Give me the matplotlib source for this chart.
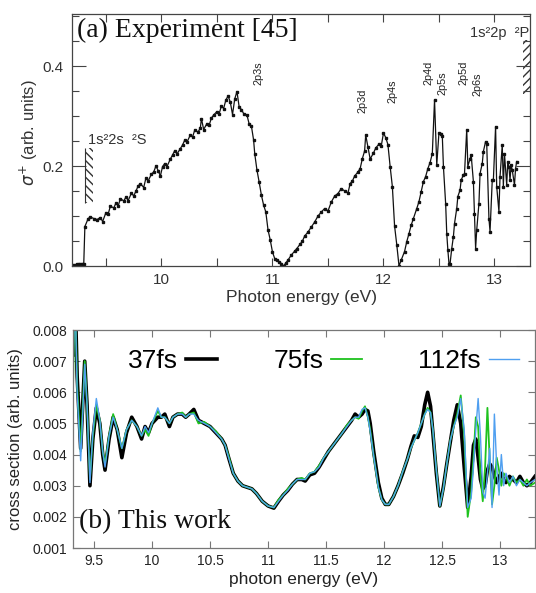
import numpy as np
import matplotlib
matplotlib.use('Agg')
import matplotlib.pyplot as plt
from matplotlib.patches import Rectangle
from matplotlib.ticker import MultipleLocator, FormatStrFormatter

plt.rcParams['font.family'] = ['Liberation Sans', 'DejaVu Sans']
plt.rcParams['mathtext.fontset'] = 'dejavusans'

# ---- panel (a): experimental data (photon energy in eV, sigma+ arb. units)
exp_energy = [9.20, 9.21, 9.22, 9.24, 9.26, 9.28, 9.30,
              9.31, 9.34, 9.36, 9.39, 9.42, 9.45, 9.47, 9.50, 9.52, 9.54,
              9.57, 9.59, 9.61, 9.63, 9.66, 9.68, 9.70, 9.73, 9.75, 9.77,
              9.79, 9.81, 9.84, 9.86, 9.88, 9.91, 9.93, 9.95, 9.97, 9.99,
              10.01, 10.03, 10.05, 10.08, 10.10, 10.12, 10.14, 10.17, 10.19,
              10.21, 10.23, 10.26, 10.28, 10.30, 10.33, 10.35, 10.36, 10.38,
              10.41, 10.43, 10.45, 10.47, 10.50, 10.52, 10.54, 10.56, 10.58,
              10.60, 10.62, 10.64, 10.66, 10.68, 10.70, 10.72, 10.74, 10.77,
              10.79, 10.81, 10.83, 10.84, 10.86, 10.88, 10.90, 10.92, 10.94,
              10.96, 10.98, 11.00, 11.02, 11.04, 11.06, 11.08, 11.10, 11.12,
              11.14, 11.17, 11.20, 11.22, 11.25, 11.27, 11.29, 11.32, 11.35,
              11.38, 11.41, 11.44, 11.47, 11.50, 11.53, 11.56, 11.59, 11.62,
              11.65, 11.68, 11.70, 11.72, 11.74, 11.77, 11.79, 11.81, 11.83,
              11.84, 11.86, 11.88, 11.91, 11.93, 11.96, 11.98, 12.00, 12.02,
              12.04, 12.06, 12.08, 12.10, 12.12, 12.14, 12.16, 12.19, 12.21,
              12.23, 12.25, 12.27, 12.30, 12.32, 12.34, 12.36, 12.38, 12.40,
              12.42, 12.44, 12.46, 12.48, 12.50, 12.52, 12.53, 12.54, 12.56,
              12.57, 12.58, 12.59, 12.60, 12.615, 12.63, 12.64, 12.66, 12.67,
              12.69, 12.70, 12.72, 12.73, 12.75, 12.76, 12.78, 12.79, 12.81,
              12.82, 12.83, 12.84, 12.86, 12.87, 12.89, 12.90, 12.92, 12.93,
              12.95, 12.96, 12.98, 12.99, 13.01, 13.02, 13.04, 13.05, 13.07,
              13.08, 13.09, 13.11, 13.12, 13.13, 13.14, 13.15, 13.16, 13.18,
              13.19, 13.20]
exp_sigma = [0.002, 0.000, 0.002, 0.004, 0.005, 0.005, 0.005,
             0.079, 0.095, 0.098, 0.095, 0.093, 0.097, 0.089, 0.107, 0.104, 0.120,
             0.116, 0.126, 0.120, 0.135, 0.130, 0.138, 0.131, 0.146, 0.140, 0.150,
             0.160, 0.165, 0.157, 0.176, 0.170, 0.184, 0.188, 0.200, 0.191, 0.180,
             0.199, 0.205, 0.199, 0.214, 0.222, 0.231, 0.224, 0.235, 0.242,
             0.252, 0.248, 0.262, 0.258, 0.272, 0.268, 0.276, 0.295, 0.273,
             0.285, 0.282, 0.296, 0.302, 0.309, 0.305, 0.320, 0.315, 0.332,
             0.340, 0.328, 0.303, 0.334, 0.349, 0.318, 0.313, 0.305, 0.302,
             0.284, 0.280, 0.252, 0.225, 0.192, 0.168, 0.142, 0.122, 0.108,
             0.072, 0.052, 0.028, 0.015, 0.012, 0.009, 0.005, 0.000, 0.006,
             0.012, 0.022, 0.030, 0.035, 0.044, 0.050, 0.060, 0.068, 0.078,
             0.088, 0.100, 0.108, 0.115, 0.110, 0.128, 0.140, 0.145, 0.155,
             0.150, 0.146, 0.165, 0.170, 0.180, 0.188, 0.195, 0.215, 0.230,
             0.262, 0.238, 0.214, 0.226, 0.236, 0.244, 0.240, 0.266, 0.257,
             0.243, 0.199, 0.159, 0.080, 0.042, 0.000, 0.012, 0.029, 0.049,
             0.065, 0.082, 0.095, 0.115, 0.129, 0.149, 0.169, 0.179, 0.195,
             0.207, 0.225, 0.332, 0.202, 0.267, 0.265, 0.260, 0.199, 0.125,
             0.065, 0.032, 0.005, 0.005, 0.035, 0.059, 0.085, 0.115, 0.139,
             0.152, 0.172, 0.182, 0.185, 0.273, 0.199, 0.215, 0.222, 0.169,
             0.105, 0.035, 0.072, 0.125, 0.185, 0.205, 0.229, 0.249, 0.245,
             0.095, 0.069, 0.172, 0.172, 0.279, 0.159, 0.109, 0.179, 0.242,
             0.159, 0.225, 0.162, 0.209, 0.199, 0.172, 0.202, 0.192, 0.162,
             0.195, 0.209]

# thresholds and resonance labels
thresholds = [9.313, 13.32]
res_labels = ['2p3s', '2p3d', '2p4s', '2p4d', '2p5s', '2p5d', '2p6s']
res_energy = [10.87, 11.815, 12.085, 12.41, 12.535, 12.72, 12.85]
res_height = [0.362, 0.306, 0.326, 0.362, 0.342, 0.362, 0.339]

# ---- panel (b): calculated cross section (units of 1e-3)
calc_energy = [9.320, 9.335, 9.355, 9.385, 9.405, 9.420, 9.440, 9.465, 9.490,
               9.520, 9.550, 9.575, 9.595, 9.630, 9.665, 9.700, 9.740, 9.780,
               9.825, 9.870, 9.910, 9.940, 9.970, 10.000, 10.050, 10.080,
               10.110, 10.150, 10.180, 10.220, 10.260, 10.290, 10.320, 10.360,
               10.400, 10.450, 10.500, 10.550, 10.600, 10.630, 10.660, 10.700,
               10.740, 10.780, 10.820, 10.860, 10.900, 10.950, 11.000, 11.050,
               11.090, 11.130, 11.170, 11.210, 11.250, 11.290, 11.320, 11.360,
               11.400, 11.440, 11.480, 11.520, 11.560, 11.600, 11.640, 11.680,
               11.720, 11.750, 11.780, 11.810, 11.835, 11.860, 11.880, 11.910,
               11.950, 11.980, 12.010, 12.040, 12.080, 12.120, 12.160, 12.200,
               12.230, 12.260, 12.290, 12.320, 12.350, 12.375, 12.400, 12.420,
               12.450, 12.480, 12.510, 12.540, 12.570, 12.600, 12.630, 12.660,
               12.690, 12.720, 12.750, 12.770, 12.790, 12.810, 12.830, 12.850,
               12.870, 12.890, 12.910, 12.930, 12.950, 12.970, 12.990, 13.010,
               13.030, 13.050, 13.080, 13.110, 13.140, 13.170, 13.200, 13.230,
               13.260, 13.300]
cs_37fs = [7.2, 9.5, 6.5, 4.2, 5.8, 7.0, 5.6, 3.0, 4.5,
           5.5, 5.0, 4.0, 3.5, 4.5, 5.2, 4.8, 3.9, 4.7,
           5.2, 4.9, 4.5, 4.9, 4.7, 5.0, 5.2, 5.2,
           5.3, 4.9, 5.2, 5.3, 5.3, 5.2, 5.3, 5.45,
           5.1, 5.0, 4.9, 4.7, 4.5, 4.3, 3.9, 3.4,
           3.15, 3.0, 2.95, 2.9, 2.75, 2.5, 2.35, 2.28,
           2.5, 2.7, 2.85, 3.05, 3.2, 3.2, 3.15, 3.35,
           3.4, 3.6, 3.85, 4.1, 4.3, 4.5, 4.7, 4.9,
           5.1, 5.3, 5.2, 5.3, 5.45, 5.4, 5.0, 4.1,
           3.1, 2.6, 2.4, 2.4, 2.65, 3.0, 3.4, 3.85,
           4.25, 4.6, 4.55, 4.9, 5.6, 6.0, 5.55, 4.7,
           3.4, 2.35, 2.95, 3.7, 4.4, 5.1, 5.6, 5.0,
           3.6, 2.3, 3.3, 4.3, 4.5, 3.9, 3.2, 2.9,
           3.0, 3.5, 3.7, 3.6, 3.3, 3.1, 3.3, 3.4,
           3.2, 3.1, 3.3, 3.2, 3.1, 3.3, 3.1, 3.0,
           3.1, 3.3]
cs_75fs = [6.3, 9.5, 6.2, 4.1, 5.7, 7.0, 5.6, 3.2, 4.6,
           5.6, 5.1, 4.1, 3.7, 4.6, 5.3, 4.8, 4.2, 4.8,
           5.1, 4.9, 4.6, 4.8, 4.6, 5.0, 5.4, 5.2,
           5.2, 5.0, 5.2, 5.3, 5.35, 5.2, 5.3, 5.35,
           5.0, 5.05, 4.9, 4.75, 4.5, 4.3, 3.95, 3.4,
           3.15, 3.0, 2.95, 2.9, 2.75, 2.5, 2.35, 2.3,
           2.55, 2.7, 2.9, 3.05, 3.2, 3.25, 3.2, 3.4,
           3.45, 3.65, 3.9, 4.1, 4.3, 4.5, 4.7, 4.95,
           5.1, 5.2, 5.15, 5.4, 5.55, 5.2, 4.8, 3.95,
           2.95, 2.55, 2.4, 2.4, 2.65, 3.0, 3.45, 3.85,
           4.2, 4.45, 4.7, 5.0, 5.3, 5.5, 5.35, 4.8,
           3.5, 2.35, 2.9, 3.7, 4.45, 4.9, 5.3, 5.9,
           4.6, 2.0, 2.8, 3.9, 5.2, 4.9, 3.3, 2.5,
           3.6, 5.5, 3.8, 2.4, 3.0, 3.9, 3.5, 3.0,
           3.4, 3.3, 3.0, 3.3, 3.1, 3.2, 3.0, 3.2,
           3.0, 3.1]
cs_112fs = [6.6, 9.5, 6.0, 3.8, 5.5, 6.9, 5.6, 3.1, 4.7,
            5.8, 5.1, 4.1, 3.6, 4.6, 5.2, 4.8, 4.2, 4.8,
            5.1, 4.9, 4.6, 4.9, 4.7, 5.0, 5.5, 5.2,
            5.2, 5.0, 5.2, 5.3, 5.3, 5.2, 5.3, 5.3,
            5.1, 5.0, 4.9, 4.7, 4.5, 4.3, 3.9, 3.4,
            3.15, 3.0, 2.95, 2.9, 2.75, 2.5, 2.35, 2.3,
            2.5, 2.7, 2.85, 3.05, 3.2, 3.2, 3.2, 3.4,
            3.45, 3.6, 3.9, 4.1, 4.3, 4.5, 4.7, 4.9,
            5.1, 5.2, 5.2, 5.45, 5.5, 5.2, 4.75, 3.95,
            2.95, 2.55, 2.4, 2.4, 2.65, 3.0, 3.45, 3.85,
            4.2, 4.45, 4.7, 5.0, 5.3, 5.45, 5.35, 4.8,
            3.5, 2.35, 2.9, 3.7, 4.45, 4.9, 5.2, 5.8,
            4.8, 2.3, 2.6, 3.6, 4.8, 5.8, 4.6, 2.8,
            2.6, 3.4, 4.2, 2.3, 5.3, 3.6, 2.7, 4.0,
            3.0, 3.4, 3.1, 3.3, 3.0, 3.2, 3.1, 3.0,
            3.1, 3.2]
pulse_labels = ['37fs', '75fs', '112fs']
pulse_colors = ['black', '#1ec21e', '#4f9ff0']
pulse_widths = [2.6, 1.3, 1.0]

fig = plt.figure(figsize=(5.36, 5.93), dpi=100)
ax1 = fig.add_axes([72/536, 1 - 266/593, 458/536, 252/593])
ax2 = fig.add_axes([73/536, 1 - 548/593, 462/536, 218/593])

grey = '#333333'

### panel (a)
ax1.plot(exp_energy, exp_sigma, '-s', color='#111111', lw=0.9, ms=1.9)
ax1.set_xlim(9.194, 13.32)
ax1.set_ylim(0, 0.504)
ax1.set_xticks([10, 11, 12, 13])
ax1.xaxis.set_minor_locator(MultipleLocator(0.5))
ax1.set_yticks([0.0, 0.2, 0.4])
ax1.yaxis.set_minor_locator(MultipleLocator(0.05))
ax1.yaxis.set_major_formatter(FormatStrFormatter('%.1f'))
ax1.tick_params(which='both', direction='in', top=True, right=True,
                labelsize=11, colors='#444444', labelcolor=grey, width=0.8)
ax1.tick_params(axis='x', which='both', length=6, pad=5)
ax1.tick_params(axis='y', which='major', length=10, pad=6)
ax1.tick_params(axis='y', which='minor', length=5)
for s in ax1.spines.values():
    s.set_color('#444444')
    s.set_linewidth(0.9)
ax1.set_xlabel('Photon energy (eV)', fontsize=12.5, color=grey, labelpad=2)
ax1.set_ylabel(r'$\sigma^{+}$ (arb. units)', fontsize=12, color=grey)
ax1.yaxis.set_label_coords(-0.07, 0.53)

# threshold hatches
ax1.add_patch(Rectangle((thresholds[0], 0.126), 0.07, 0.11, fill=False,
                        hatch='\\\\\\\\', edgecolor=grey, lw=0))
ax1.vlines(thresholds[0], 0.126, 0.236, color=grey, lw=0.8)
ax1.add_patch(Rectangle((thresholds[1] - 0.065, 0.345), 0.065, 0.107, fill=False,
                        hatch='////', edgecolor=grey, lw=0))
ax1.text(9.34, 0.252, '1s²2s  ²S', fontsize=10.5, color=grey, va='center')
ax1.text(13.31, 0.466, '1s²2p  ²P', fontsize=10.5, color=grey, va='center', ha='right')
for lab, e, h in zip(res_labels, res_energy, res_height):
    ax1.text(e, h, lab, rotation=90, fontsize=7.8, color='#222222',
             ha='center', va='bottom')
ax1.text(0.01, 0.984, '(a) Experiment [45]', transform=ax1.transAxes,
         family='Liberation Serif', fontsize=20, va='top', color='#111111')

### panel (b)
series = [cs_37fs, cs_75fs, cs_112fs]
for ys, lab, c, w in zip(series, pulse_labels, pulse_colors, pulse_widths):
    ax2.plot(calc_energy, np.array(ys) * 1e-3, color=c, lw=w, label=lab,
             solid_joinstyle='round')
ax2.set_xlim(9.319, 13.30)
ax2.set_ylim(0.001, 0.008)
ax2.set_xticks(np.arange(9.5, 13.01, 0.5))
ax2.xaxis.set_major_formatter(FormatStrFormatter('%g'))
ax2.set_yticks(np.arange(0.001, 0.00801, 0.001))
ax2.yaxis.set_major_formatter(FormatStrFormatter('%.3f'))
ax2.tick_params(direction='in', top=True, right=True, length=5, width=0.8,
                labelsize=10, colors='#777777', labelcolor='#222222', pad=4)
for s in ax2.spines.values():
    s.set_color('#777777')
    s.set_linewidth(0.9)
ax2.set_xlabel('photon energy (eV)', fontsize=12.5, color='#222222', labelpad=3)
ax2.set_ylabel('cross section (arb. units)', fontsize=12, color='#222222')
ax2.yaxis.set_label_coords(-0.108, 0.5)
ax2.legend(ncol=3, loc='center left', bbox_to_anchor=(0.12, 0.858),
           frameon=False, fontsize=19, markerfirst=False, handlelength=1.15,
           handletextpad=0.3, columnspacing=2.15, borderaxespad=0, borderpad=0)
ax2.text(0.012, 0.12, '(b) This work', transform=ax2.transAxes,
         family='Liberation Serif', fontsize=20, va='center', color='#111111')

fig.savefig('out.png', dpi=100)
